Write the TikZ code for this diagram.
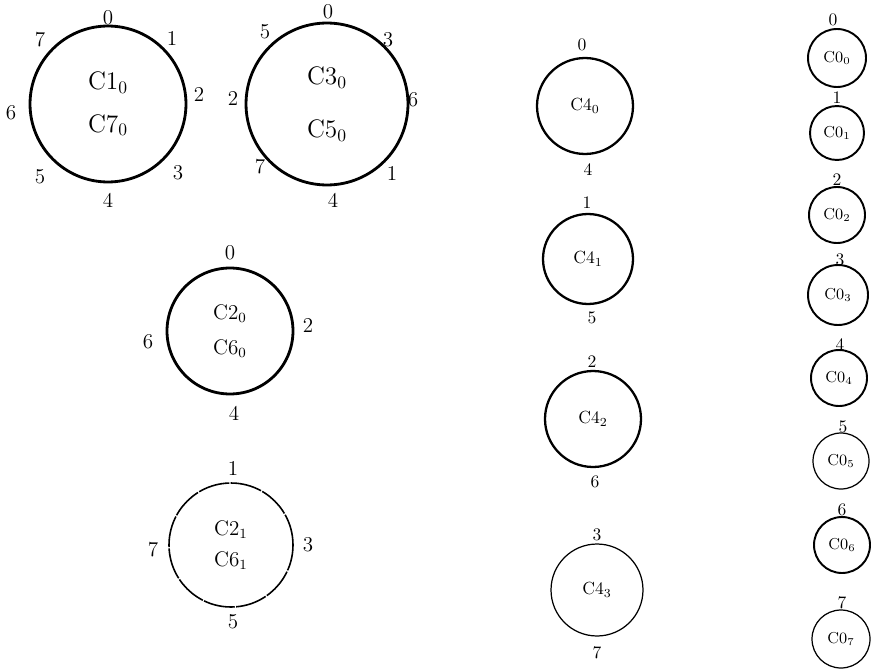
\documentclass[tikz,border=0pt]{standalone}
\usepackage{amsmath,amssymb}
\usepackage{tikz}
\usetikzlibrary{positioning}

\begin{document}
\begin{tikzpicture}[x=0.02cm, y=0.02cm,
    cyc/.style={draw, circle, line width=1.6pt, inner sep=0pt, align=center, font=\Large},
    cycmid/.style={draw, circle, line width=1.3pt, inner sep=0pt, align=center, font=\normalsize},
    cycsmall/.style={draw, circle, line width=1.1pt, inner sep=0pt, align=center, font=\small},
    faint/.style={line width=0.7pt},
    broken/.style={line width=0.9pt, dash pattern=on 18pt off 0.8pt},
    lbl/.style={font=\large, inner sep=1pt},
    lblsmall/.style={font=\normalsize, inner sep=1pt}
]
    \useasboundingbox (0,0) rectangle (872,-669);

    \node[cyc, minimum size=3.12cm] (c1) at (108,-104) {C1$_0$\\[6pt]C7$_0$};
    \node[lbl] (c1n0) at (108,-18) {0};
    \node[lbl] (c1n1) at (172,-38) {1};
    \node[lbl] (c1n2) at (199,-94) {2};
    \node[lbl] (c1n3) at (178,-173) {3};
    \node[lbl] (c1n4) at (108,-200) {4};
    \node[lbl] (c1n5) at (40,-177) {5};
    \node[lbl] (c1n6) at (11,-113) {6};
    \node[lbl] (c1n7) at (40,-40) {7};

    \node[cyc, minimum size=3.24cm] (c2) at (327,-104) {C3$_0$\\[12pt]C5$_0$};
    \node[lbl] (c2n0) at (328,-12) {0};
    \node[lbl] (c2n3) at (388,-40) {3};
    \node[lbl] (c2n6) at (413,-100) {6};
    \node[lbl] (c2n1) at (392,-173) {1};
    \node[lbl] (c2n4) at (333,-200) {4};
    \node[lbl] (c2n7) at (260,-167) {7};
    \node[lbl] (c2n2) at (233,-98) {2};
    \node[lbl] (c2n5) at (265,-32) {5};

    \node[cyc, font=\large, minimum size=2.52cm] (c3) at (230,-331) {C2$_0$\\[6pt]C6$_0$};
    \node[lbl] (c3n0) at (230,-253) {0};
    \node[lbl] (c3n2) at (308,-325) {2};
    \node[lbl] (c3n4) at (234,-413) {4};
    \node[lbl] (c3n6) at (148,-342) {6};

    \node[cyc, broken, font=\large, minimum size=2.48cm] (c4) at (231,-545) {C2$_1$\\[4pt]C6$_1$};
    \node[lbl] (c4n1) at (233,-468) {1};
    \node[lbl] (c4n3) at (308,-545) {3};
    \node[lbl] (c4n5) at (233,-622) {5};
    \node[lbl] (c4n7) at (153,-550) {7};

    \node[cycmid, minimum size=1.92cm] (q0) at (585,-106) {C4$_0$};
    \node[lblsmall] (q0t) at (582,-45) {0};
    \node[lblsmall] (q0b) at (588,-170) {4};
    \node[cycmid, minimum size=1.8cm] (q1) at (588,-259) {C4$_1$};
    \node[lblsmall] (q1t) at (587,-203) {1};
    \node[lblsmall] (q1b) at (592,-318) {5};
    \node[cycmid, minimum size=1.92cm] (q2) at (593,-419) {C4$_2$};
    \node[lblsmall] (q2t) at (592,-362) {2};
    \node[lblsmall] (q2b) at (595,-482) {6};
    \node[cycmid, faint, minimum size=1.84cm] (q3) at (597,-590) {C4$_3$};
    \node[lblsmall] (q3t) at (597,-535) {3};
    \node[lblsmall] (q3b) at (597,-653) {7};

    \node[cycsmall, minimum size=1.16cm] (o0) at (837,-58) {C0$_0$};
    \node[lblsmall] (o0t) at (833,-20) {0};
    \node[cycsmall, minimum size=1.08cm] (o1) at (837,-133) {C0$_1$};
    \node[lblsmall] (o1t) at (837,-98) {1};
    \node[cycsmall, minimum size=1.12cm] (o2) at (837,-215) {C0$_2$};
    \node[lblsmall] (o2t) at (837,-180) {2};
    \node[cycsmall, minimum size=1.2cm] (o3) at (838,-295) {C0$_3$};
    \node[lblsmall] (o3t) at (840,-260) {3};
    \node[cycsmall, minimum size=1.12cm] (o4) at (839,-378) {C0$_4$};
    \node[lblsmall] (o4t) at (840,-345) {4};
    \node[cycsmall, faint, minimum size=1.12cm] (o5) at (841,-461) {C0$_5$};
    \node[lblsmall] (o5t) at (843,-427) {5};
    \node[cycsmall, minimum size=1.12cm] (o6) at (842,-545) {C0$_6$};
    \node[lblsmall] (o6t) at (842,-510) {6};
    \node[cycsmall, faint, minimum size=1.16cm] (o7) at (841,-639) {C0$_7$};
    \node[lblsmall] (o7t) at (842,-603) {7};
\end{tikzpicture}
\end{document}
